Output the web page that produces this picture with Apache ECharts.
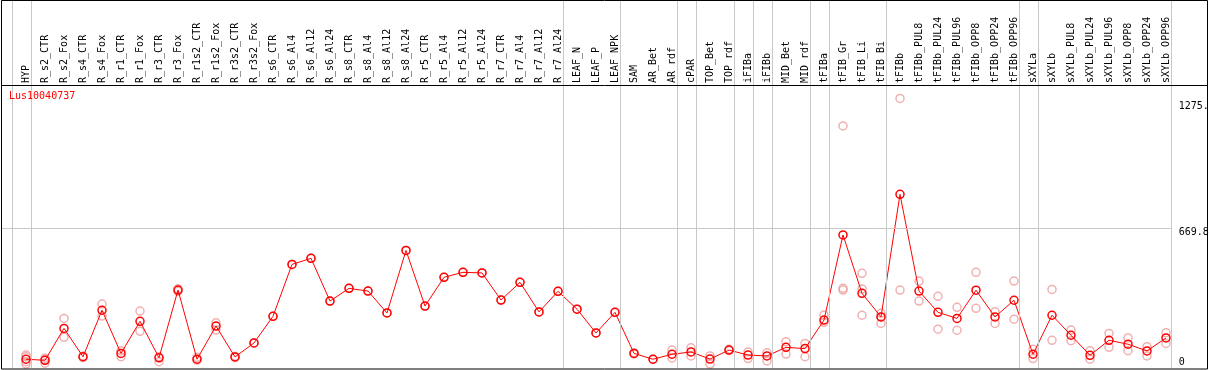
<!DOCTYPE html>
<html>
<head>
<meta charset="utf-8">
<script src="https://cdn.jsdelivr.net/npm/echarts@6/dist/echarts.min.js"></script>
<style>
    html, body { margin: 0; padding: 0; background: #fff; }
    #chart { width: 1209px; height: 370px; }
</style>
</head>
<body>
<div id="chart"></div>
<script>
    const geneName = 'Lus10040737'

    const categories = [
        'HYP', 'R_s2_CTR', 'R_s2_Fox', 'R_s4_CTR', 'R_s4_Fox', 'R_r1_CTR', 'R_r1_Fox', 'R_r3_CTR', 'R_r3_Fox',
        'R_r1s2_CTR', 'R_r1s2_Fox', 'R_r3s2_CTR', 'R_r3s2_Fox', 'R_s6_CTR', 'R_s6_Al4', 'R_s6_Al12', 'R_s6_Al24',
        'R_s8_CTR', 'R_s8_Al4', 'R_s8_Al12', 'R_s8_Al24', 'R_r5_CTR', 'R_r5_Al4', 'R_r5_Al12', 'R_r5_Al24',
        'R_r7_CTR', 'R_r7_Al4', 'R_r7_Al12', 'R_r7_Al24', 'LEAF_N', 'LEAF_P', 'LEAF_NPK', 'SAM', 'AR_Bet', 'AR_rdf',
        'cPAR', 'TOP_Bet', 'TOP_rdf', 'iFIBa', 'iFIBb', 'MID_Bet', 'MID_rdf', 'tFIBa', 'tFIB_Gr', 'tFIB_Li', 'tFIB_Bi',
        'tFIBb', 'tFIBb_PUL8', 'tFIBb_PUL24', 'tFIBb_PUL96', 'tFIBb_OPP8', 'tFIBb_OPP24', 'tFIBb_OPP96',
        'sXYLa', 'sXYLb', 'sXYLb_PUL8', 'sXYLb_PUL24', 'sXYLb_PUL96', 'sXYLb_OPP8', 'sXYLb_OPP24', 'sXYLb_OPP96'
    ]

    // mean expression per sample
    const means = [
        42, 37, 190, 54, 277, 70, 224, 49, 374, 42,
        201, 53, 120, 248, 497, 526, 321, 382, 369, 264,
        564, 297, 435, 459, 456, 326, 411, 269, 368, 282,
        168, 267, 70, 42, 66, 77, 43, 86, 62, 58,
        99, 93, 230, 638, 358, 245, 833, 369, 267, 238,
        373, 245, 325, 66, 253, 157, 61, 133, 114, 82,
        144
    ]

    // single replicate values per sample
    const replicates = [
        [62, 54, 30, 19], [47, 40, 23], [238, 147], [58, 50], [307, 249], [82, 54], [273, 176], [54, 30], [380, 368],
        [51, 38], [217, 182], [56, 50], [120], [248], [497], [526], [321],
        [382], [369], [264], [564], [297], [435], [459], [456],
        [326], [411], [269], [368], [282], [168], [267], [73, 68], [42], [86, 48],
        [97, 58], [58, 19], [90, 84], [77, 45], [73, 34], [126, 67], [118, 54], [254, 219], [1161, 382, 374], [454, 379, 253], [262, 245, 214],
        [1293, 374], [417, 321], [344, 186], [291, 181], [459, 286], [270, 214], [417, 234],
        [90, 45], [377, 133], [182, 131], [83, 42], [166, 99], [144, 83], [102, 58], [169, 118]
    ]

    // index of the last sample of each group (separator drawn just after it)
    const groupEnds = [-1, 0, 28, 31, 34, 35, 37, 38, 39, 41, 42, 45, 52, 53, 60]

    const yTicks = [0, 669.8, 1275]
    const yTickLabels = ['0', '669.8', '1275.']
    const yGridLines = [669.8]

    const font = 'DejaVu Sans Mono'
    const sepOffset = 0.25

    let myChart = echarts.init(document.getElementById('chart'), null, { renderer: 'canvas' })

    let replicateData = []
    replicates.forEach((vals, i) => {
        vals.forEach(v => replicateData.push([i, v]))
    })

    let option = {
        animation: false,
        title: {
            text: geneName,
            left: 9,
            top: 91,
            padding: 0,
            textStyle: {
                color: '#ff0000',
                fontSize: 10,
                fontFamily: font,
                fontWeight: 'normal'
            }
        },
        grid: {
            left: 1,
            right: 38.25,
            top: 0,
            bottom: 2,
            containLabel: false,
            outerBoundsMode: 'none'
        },
        xAxis: {
            type: 'value',
            position: 'top',
            min: -1.3158,
            max: 60.25,
            axisLine: { show: false },
            axisTick: { show: false },
            splitLine: { show: false },
            axisLabel: {
                customValues: categories.map((c, i) => i),
                formatter: v => categories[Math.round(v)],
                rotate: 90,
                inside: true,
                margin: 83,
                align: 'left',
                verticalAlign: 'middle',
                padding: [0, 0, 4, 0],
                fontFamily: font,
                fontSize: 10,
                color: '#000'
            }
        },
        yAxis: {
            type: 'value',
            position: 'right',
            min: 0,
            max: 1765,
            axisLine: { show: false },
            axisTick: { show: false },
            splitLine: { show: false },
            axisLabel: {
                customValues: yTicks,
                margin: 8,
                align: 'left',
                verticalAlign: 'middle',
                fontFamily: font,
                fontSize: 10,
                color: '#000',
                formatter: v => {
                    let idx = yTicks.findIndex(t => Math.abs(t - v) < 0.01)
                    let txt = idx >= 0 ? yTickLabels[idx] : ''
                    return v < 1 ? '{lo|' + txt + '}' : '{hi|' + txt + '}'
                },
                rich: {
                    hi: { padding: [8, 0, 0, 0], fontFamily: font, fontSize: 10, color: '#000' },
                    lo: { padding: [0, 0, 12, 0], fontFamily: font, fontSize: 10, color: '#000' }
                }
            }
        },
        graphic: [
            {
                type: 'rect',
                silent: true,
                z: 100,
                shape: { x: 1.5, y: 0.5, width: 1206, height: 368.5 },
                style: { fill: 'none', stroke: '#000', lineWidth: 1 }
            },
            {
                type: 'line',
                silent: true,
                z: 100,
                shape: { x1: 1, y1: 85.5, x2: 1208, y2: 85.5 },
                style: { stroke: '#000', lineWidth: 1 }
            }
        ],
        series: [
            {
                name: 'replicates',
                type: 'scatter',
                z: 1,
                symbol: 'circle',
                symbolSize: 8,
                itemStyle: {
                    color: 'rgba(0,0,0,0)',
                    borderColor: '#ee9c9c',
                    borderWidth: 1.5
                },
                data: replicateData,
                markLine: {
                    silent: true,
                    symbol: 'none',
                    label: { show: false },
                    lineStyle: { color: '#c8c8c8', width: 1, type: 'solid' },
                    data: groupEnds.map(g => ({ xAxis: g + sepOffset }))
                        .concat(yGridLines.map(v => ({ yAxis: v })))
                }
            },
            {
                name: geneName,
                type: 'line',
                z: 2,
                symbol: 'circle',
                symbolSize: 8,
                lineStyle: { color: '#ff0000', width: 1 },
                itemStyle: {
                    color: 'rgba(0,0,0,0)',
                    borderColor: '#ff0000',
                    borderWidth: 1.5
                },
                data: means.map((v, i) => [i, v])
            }
        ]
    }

    myChart.setOption(option)
</script>
</body>
</html>
